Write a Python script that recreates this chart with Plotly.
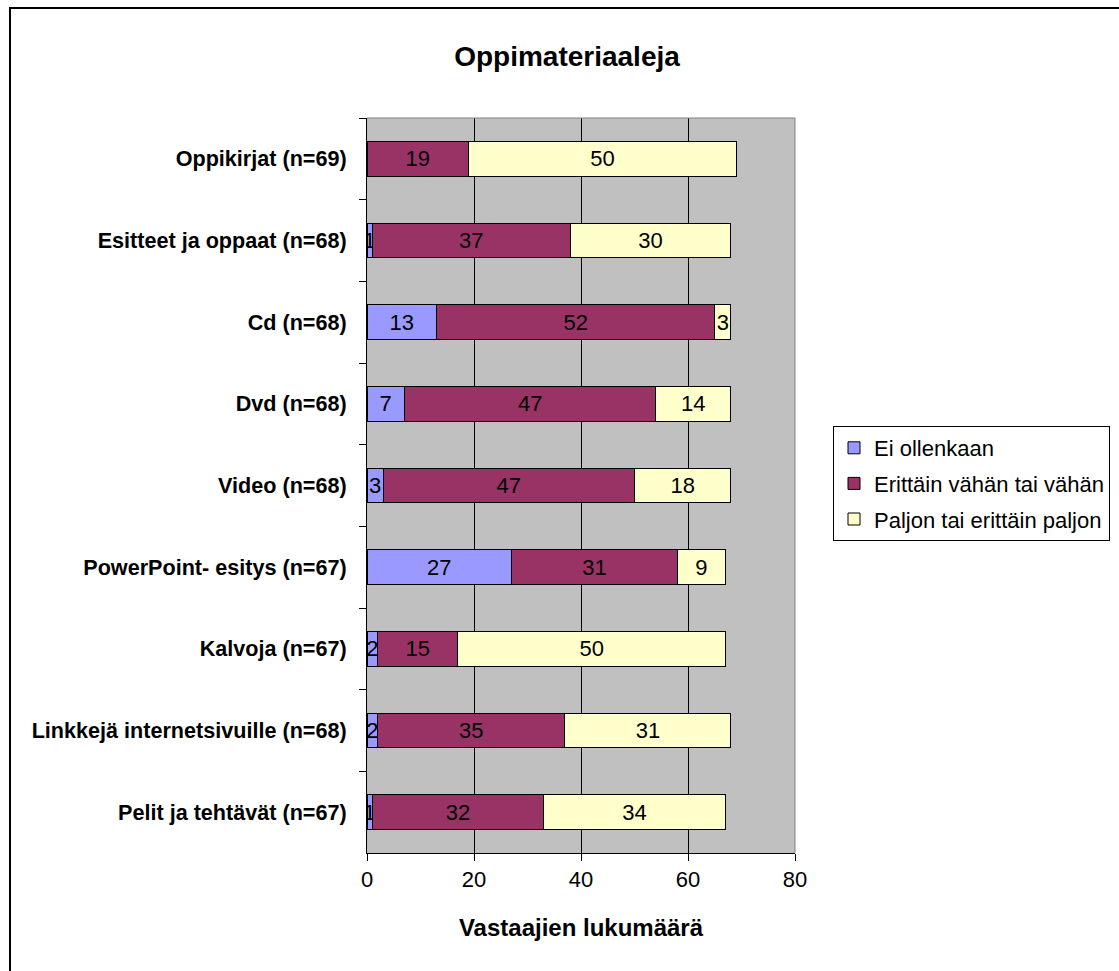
import plotly.graph_objects as go

# Survey results: how much each type of learning material is used
categories = [
    "Oppikirjat (n=69)",
    "Esitteet ja oppaat (n=68)",
    "Cd (n=68)",
    "Dvd (n=68)",
    "Video (n=68)",
    "PowerPoint- esitys (n=67)",
    "Kalvoja (n=67)",
    "Linkkejä internetsivuille (n=68)",
    "Pelit ja tehtävät (n=67)",
]
ei_ollenkaan = [0, 1, 13, 7, 3, 27, 2, 2, 1]
vahan = [19, 37, 52, 47, 47, 31, 15, 35, 32]
paljon = [50, 30, 3, 14, 18, 9, 50, 31, 34]

series = [
    ("Ei ollenkaan", ei_ollenkaan, "#9999FF"),
    ("Erittäin vähän tai vähän", vahan, "#993366"),
    ("Paljon tai erittäin paljon", paljon, "#FFFFCC"),
]

FONT = "Arial, Liberation Sans, sans-serif"

fig = go.Figure()
for name, vals, color in series:
    fig.add_trace(go.Bar(
        name=name,
        y=categories,
        x=vals,
        orientation="h",
        legendgroup=name,
        marker=dict(color=color, line=dict(color="black", width=1)),
        text=[str(v) if v else "" for v in vals],
        textposition="inside",
        insidetextanchor="middle",
        constraintext="none",
        textangle=0,
        textfont=dict(family=FONT, size=22, color="black"),
        hoverinfo="skip",
    ))

fig.update_layout(
    width=1119,
    height=971,
    barmode="stack",
    bargap=0.575,
    paper_bgcolor="white",
    plot_bgcolor="#C0C0C0",
    margin=dict(l=367, r=324, t=118, b=118, autoexpand=False),
    font=dict(family=FONT, size=21, color="black"),
    title=dict(
        text="<b>Oppimateriaaleja</b>",
        font=dict(family=FONT, size=28, color="black"),
        x=0.5067, xanchor="center",
        y=1 - 56 / 971, yanchor="middle",
        xref="container", yref="container",
    ),
    showlegend=True,
    legend=dict(
        x=(833 - 367) / 428, xanchor="left",
        y=(853 - 426) / 735, yanchor="top",
        bgcolor="white",
        bordercolor="black",
        borderwidth=1,
        traceorder="grouped",
        tracegroupgap=4,
        itemwidth=30,
        font=dict(family=FONT, size=22, color="black"),
    ),
    xaxis=dict(
        range=[0, 80],
        dtick=20,
        tick0=0,
        showgrid=True,
        gridcolor="black",
        gridwidth=1,
        zeroline=False,
        showline=True,
        linecolor="black",
        linewidth=1,
        ticks="outside",
        ticklen=7,
        tickcolor="black",
        tickfont=dict(family=FONT, size=22, color="black"),
        title=dict(
            text="<b>Vastaajien lukumäärä</b>",
            font=dict(family=FONT, size=24, color="black"),
            standoff=27,
        ),
        automargin=False,
        fixedrange=True,
    ),
    yaxis=dict(
        type="category",
        autorange="reversed",
        showgrid=False,
        zeroline=False,
        showline=True,
        linecolor="black",
        linewidth=1,
        ticks="outside",
        tickson="boundaries",
        ticklen=7,
        tickcolor="black",
        ticklabelstandoff=15,
        tickfont=dict(family=FONT, size=21.6, color="black", weight="bold"),
        automargin=False,
        fixedrange=True,
    ),
    shapes=[
        # grey frame of the plot area (top and right edges)
        dict(type="line", xref="paper", yref="paper", x0=0, x1=1, y0=1, y1=1,
             line=dict(color="#808080", width=1)),
        dict(type="line", xref="paper", yref="paper", x0=1, x1=1, y0=0, y1=1,
             line=dict(color="#808080", width=1)),
        # outer chart border
        dict(type="rect", xref="paper", yref="paper",
             x0=(10 - 367) / 428, x1=1.9,
             y0=-0.3, y1=(853 - 8) / 735,
             line=dict(color="black", width=2), fillcolor="rgba(0,0,0,0)"),
    ],
)

fig.write_html("out.html", config={"displayModeBar": False})
